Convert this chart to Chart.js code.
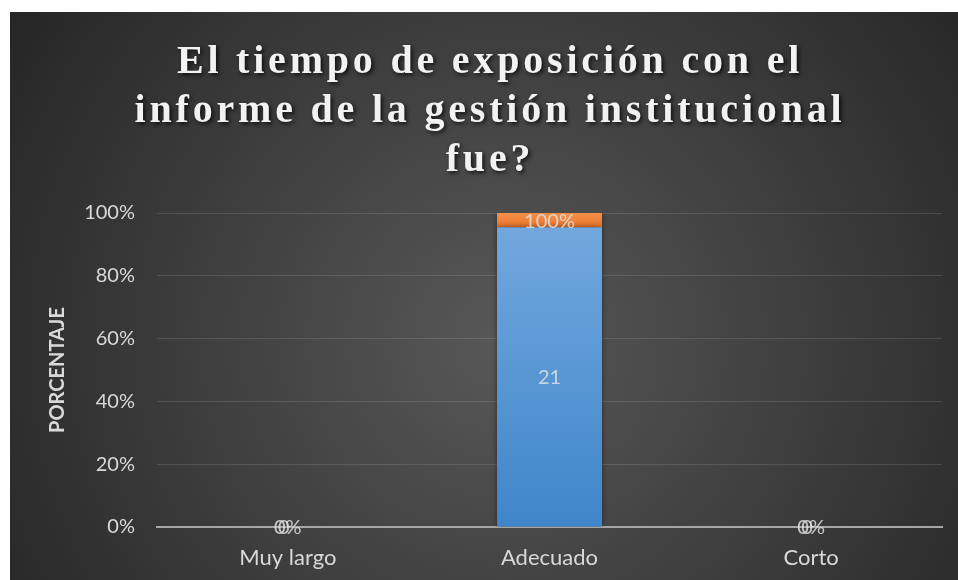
<!DOCTYPE html>
<html>
<head>
<meta charset="utf-8">
<script src="https://cdn.jsdelivr.net/npm/chart.js@4"></script>
<style>
    html, body { margin: 0; padding: 0; background: #ffffff; }
    #wrap { position: absolute; left: 10px; top: 12px; width: 948px; height: 568px; }
</style>
</head>
<body>
<div id="wrap"><canvas id="myChart" width="948" height="568"></canvas></div>
<script>
const titulo = ['El tiempo de exposición con el', 'informe de la gestión institucional', 'fue?'];
const categorias = ['Muy largo', 'Adecuado', 'Corto'];
const frecuencia = [0, 21, 0];
const porcentaje = [0, 1, 0];
const tituloEjeY = 'PORCENTAJE';

// 100% stacked columns: each series as a share of the column total
function share(values, i) {
    const total = frecuencia[i] + porcentaje[i];
    return total ? values[i] / total * 100 : 0;
}
const frecuenciaPlot = categorias.map(function(c, i) { return share(frecuencia, i); });
const porcentajePlot = categorias.map(function(c, i) { return share(porcentaje, i); });

const fondo = {
    id: 'fondo',
    beforeDraw: function(chart) {
        const ctx = chart.ctx;
        const w = chart.width, h = chart.height;
        const g = ctx.createRadialGradient(w * 0.52, h * 0.58, 10, w * 0.52, h * 0.58, w * 0.62);
        g.addColorStop(0, '#575757');
        g.addColorStop(1, '#262626');
        ctx.save();
        ctx.fillStyle = g;
        ctx.fillRect(0, 0, w, h);
        ctx.restore();
    }
};

const tituloPlugin = {
    id: 'tituloPlugin',
    afterDraw: function(chart) {
        const ctx = chart.ctx;
        ctx.save();
        ctx.font = 'bold 40px "Liberation Serif", "Times New Roman", serif';
        ctx.letterSpacing = '3.8px';
        ctx.textAlign = 'center';
        ctx.textBaseline = 'alphabetic';
        ctx.fillStyle = '#f2f2f2';
        ctx.shadowColor = 'rgba(0,0,0,0.75)';
        ctx.shadowBlur = 4;
        ctx.shadowOffsetX = 2;
        ctx.shadowOffsetY = 2;
        for (let i = 0; i < titulo.length; i++) {
            ctx.fillText(titulo[i], chart.width / 2 + 6, 61 + i * 49);
        }
        ctx.restore();
    }
};

const sombra = {
    id: 'sombra',
    beforeDatasetsDraw: function(chart) {
        const ctx = chart.ctx;
        ctx.save();
        ctx.shadowColor = 'rgba(0,0,0,0.45)';
        ctx.shadowBlur = 6;
    },
    afterDatasetsDraw: function(chart) {
        chart.ctx.restore();
    }
};

const etiquetas = {
    id: 'etiquetas',
    afterDatasetsDraw: function(chart) {
        const ctx = chart.ctx;
        ctx.save();
        ctx.font = '20px Lato, "Open Sans", sans-serif';
        ctx.fillStyle = 'rgba(225,225,225,0.85)';
        ctx.textAlign = 'center';
        ctx.textBaseline = 'middle';
        chart.data.datasets.forEach(function(ds, di) {
            chart.getDatasetMeta(di).data.forEach(function(bar, i) {
                const p = bar.getProps(['x', 'y', 'base'], true);
                const text = di === 0 ? String(frecuencia[i]) : Math.round(porcentaje[i] * 100) + '%';
                const dx = (di === 0 && frecuencia[i] === 0) ? -4 : 0;
                ctx.fillText(text, p.x + dx, (p.y + p.base) / 2 + 1);
            });
        });
        ctx.restore();
    }
};

function gradiente(ctx, top, bottom, c1, c2) {
    const g = ctx.createLinearGradient(0, top, 0, bottom);
    g.addColorStop(0, c1);
    g.addColorStop(1, c2);
    return g;
}

const ctx = document.getElementById('myChart').getContext('2d');
const myChart = new Chart(ctx, {
    type: 'bar',
    data: {
        labels: categorias,
        datasets: [{
            label: 'Frecuencia',
            data: frecuenciaPlot,
            backgroundColor: function(c) {
                const a = c.chart.chartArea;
                if (!a) return '#5b9bd5';
                return gradiente(c.chart.ctx, a.top, a.bottom, '#74a9de', '#3f86ca');
            },
            borderWidth: 0
        }, {
            label: 'Porcentaje',
            data: porcentajePlot,
            backgroundColor: function(c) {
                const a = c.chart.chartArea;
                if (!a) return '#ed7d31';
                return gradiente(c.chart.ctx, a.top, a.top + 16, '#f4904a', '#ec7424');
            },
            borderWidth: 0
        }]
    },
    options: {
        responsive: false,
        animation: false,
        events: [],
        layout: { padding: { top: 201, right: 16, left: 0, bottom: 0 } },
        plugins: {
            legend: { display: false },
            title: { display: false },
            tooltip: { enabled: false }
        },
        datasets: {
            bar: { barPercentage: 1, categoryPercentage: 0.401 }
        },
        scales: {
            x: {
                stacked: true,
                grid: { display: false, drawTicks: false },
                border: { color: '#a6a6a6', width: 2 },
                ticks: {
                    color: '#d9d9d9',
                    font: { family: 'Lato', size: 22 },
                    padding: 18
                },
                afterFit: function(scale) { scale.height = 53; }
            },
            y: {
                stacked: true,
                min: 0,
                max: 100,
                grid: { color: 'rgba(255,255,255,0.12)', lineWidth: 1, drawTicks: false },
                border: { display: false },
                ticks: {
                    stepSize: 20,
                    color: '#d9d9d9',
                    font: { family: 'Lato', size: 20 },
                    padding: 22,
                    callback: function(v) { return v + '%'; }
                },
                title: {
                    display: true,
                    text: tituloEjeY,
                    color: '#d9d9d9',
                    font: { family: 'Lato', size: 20, weight: 'bold' },
                    padding: { top: 36, bottom: 0 }
                },
                afterFit: function(scale) { scale.width = 147; }
            }
        }
    },
    plugins: [fondo, sombra, etiquetas, tituloPlugin]
});
</script>
</body>
</html>
